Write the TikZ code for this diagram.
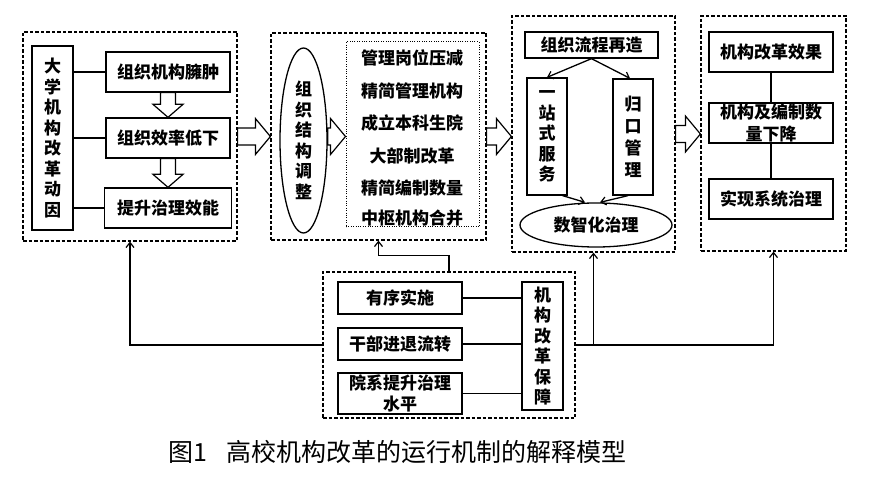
\documentclass[tikz,border=0pt]{standalone}
\usepackage{fontspec}
\newfontfamily\cjk{Noto Sans CJK SC}
\usetikzlibrary{calc,arrows.meta,shapes.geometric}
\newcommand{\hblk}[2]{\draw[blk] let \p1=(#1), \p2=(#2) in (\x1,\y1+8.5pt) -- (\x2-15pt,\y1+8.5pt) -- (\x2-15pt,\y1+18pt) -- (\x2,\y1) -- (\x2-15pt,\y1-18pt) -- (\x2-15pt,\y1-8.5pt) -- (\x1,\y1-8.5pt) -- cycle;}
\newcommand{\vblk}[2]{\draw[blk] let \p1=(#1), \p2=(#2) in (\x1-7.5pt,\y1) -- (\x1-7.5pt,\y2+13pt) -- (\x1-15pt,\y2+13pt) -- (\x1,\y2) -- (\x1+15pt,\y2+13pt) -- (\x1+7.5pt,\y2+13pt) -- (\x1+7.5pt,\y1) -- cycle;}
\tikzset{
  txtfont/.style={font={\cjk\bfseries\fontsize{17}{20.5}\selectfont}},
  box/.style={draw, line width=1.3pt, inner sep=0pt, align=center, txtfont},
  dbox/.style={draw, dash pattern=on 3.5pt off 2pt, line width=1.2pt, inner sep=0pt},
  dotbox/.style={draw, dash pattern=on 1pt off 1.4pt, line width=1pt, inner sep=0pt},
  ell/.style={draw, ellipse, line width=1.3pt, inner sep=0pt, align=center, txtfont},
  plain/.style={inner sep=0pt, txtfont},
  ln/.style={line width=1.3pt},
  arr/.style={line width=1.3pt, -{Straight Barb[length=5pt,width=8pt,line width=1.2pt]}},
  blk/.style={draw, fill=white, line width=1.2pt, line join=miter}
}
\begin{document}
\begin{tikzpicture}[x=1pt,y=-1pt]
\fill[white] (0,0) rectangle (878,478);
\useasboundingbox (0,0) rectangle (878,478);

% group 1
\node[dbox, minimum width=214, minimum height=209] (D1) at (130,136.5) {};
\node[box, minimum width=41, minimum height=184] (A) at (52.5,138) {大\\学\\机\\构\\改\\革\\动\\因};
\node[box, minimum width=124, minimum height=40] (a1) at (168,72) {组织机构臃肿};
\node[box, minimum width=124, minimum height=40] (a2) at (168,138) {组织效率低下};
\node[box, minimum width=127, minimum height=40] (a3) at (168,208) {提升治理效能};
\draw[ln] (A.east |- a1.west) -- (a1.west);
\draw[ln] (A.east |- a2.west) -- (a2.west);
\draw[ln] (A.east |- a3.west) -- (a3.west);
\vblk{a1.south}{a2.north}
\vblk{a2.south}{a3.north}

% group 2
\node[dbox, minimum width=215, minimum height=207] (D2) at (378.5,136.5) {};
\node[ell, minimum width=47, minimum height=185] (E1) at (303.5,140.5) {组\\织\\结\\构\\调\\整};
\node[dotbox, minimum width=133, minimum height=185] (P) at (412.5,134.5) {};
\node[plain] (p1) at (412,58) {管理岗位压减};
\node[plain] (p2) at (412,91) {精简管理机构};
\node[plain] (p3) at (412,123) {成立本科生院};
\node[plain] (p4) at (412,156) {大部制改革};
\node[plain] (p5) at (412,188) {精简编制数量};
\node[plain] (p6) at (412,218) {中枢机构合并};
\hblk{E1.east |- D2.center}{P.west}
\hblk{D1.east}{D2.west}

% group 3
\node[dbox, minimum width=163, minimum height=236] (D3) at (593.5,134) {};
\node[box, minimum width=133, minimum height=26] (T) at (591.5,45) {组织流程再造};
\node[box, minimum width=40, minimum height=117] (L) at (547,136.5) {一\\站\\式\\服\\务};
\node[box, minimum width=40, minimum height=116, font={\cjk\bfseries\fontsize{17}{22}\selectfont}] (R) at (633,137) {归\\口\\管\\理};
\node[ell, minimum width=152, minimum height=44] (E3) at (596,225) {数智化治理};
\draw[arr] (T.south) -- (L.north);
\draw[arr] (T.south) -- ([xshift=-3pt]R.north);
\draw[arr] ([xshift=-5pt]L.south east) -- ([xshift=-11pt]E3.north);
\draw[arr] ([xshift=-5pt]R.south) -- ([xshift=4pt]E3.north);
\hblk{D2.east}{D3.west}

% group 4
\node[dbox, minimum width=145, minimum height=235] (D4) at (773.5,133.5) {};
\node[box, minimum width=124, minimum height=40] (c1) at (771,52) {机构改革效果};
\node[box, minimum width=124, minimum height=40, font={\cjk\bfseries\fontsize{17}{22}\selectfont}] (c2) at (771,123) {机构及编制数\\量下降};
\node[box, minimum width=124, minimum height=40] (c3) at (771,199) {实现系统治理};
\draw[ln] (c1) -- (c2);
\draw[ln] (c2) -- (c3);
\hblk{D3.east}{D4.west}

% bottom group
\node[dbox, minimum width=252, minimum height=146] (Bd) at (449,345) {};
\node[box, minimum width=124, minimum height=32] (b1) at (400,298) {有序实施};
\node[box, minimum width=124, minimum height=32] (b2) at (400,344) {干部进退流转};
\node[box, minimum width=124, minimum height=41, font={\cjk\bfseries\fontsize{17}{21}\selectfont}] (b3) at (400,393.5) {院系提升治理\\水平};
\node[box, minimum width=41, minimum height=128] (B) at (542.5,346) {机\\构\\改\\革\\保\\障};
\draw[ln] (b1.east) -- (b1.east -| B.west);
\draw[ln] (b2.east) -- (b2.east -| B.west);
\draw[ln] (b3.east) -- (b3.east -| B.west);

% feedback connectors
\draw[arr] (Bd.west) -| (D1.south);
\draw[arr] (Bd.north) -- ++(0,-16) -| (D2.south);
\draw[arr] (Bd.east) -| (D4.south);
\draw[arr] (Bd.east -| D3.south) -- (D3.south);

% caption
\node[inner sep=0pt, font={\cjk\fontsize{25}{25}\selectfont}] (cap) at (397.5,452) {图1\hspace{20pt}高校机构改革的运行机制的解释模型};
\end{tikzpicture}
\end{document}
